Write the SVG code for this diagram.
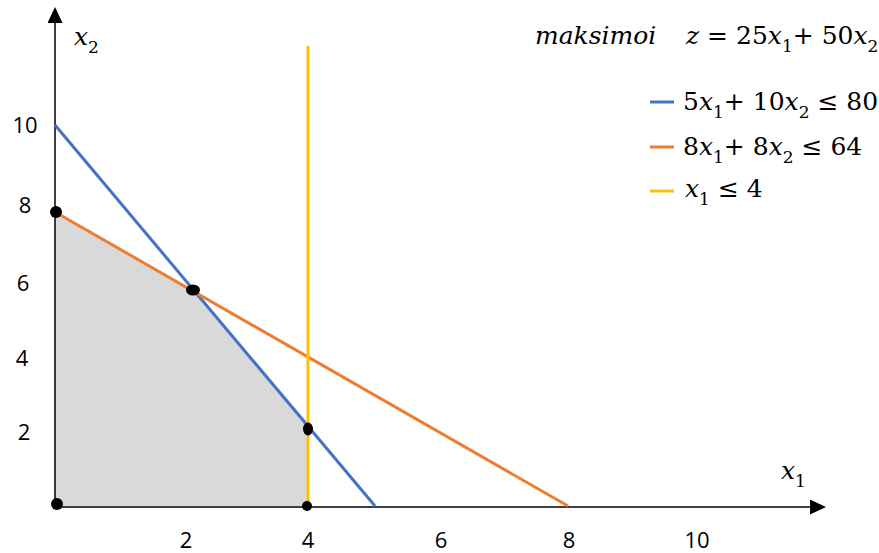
<svg xmlns="http://www.w3.org/2000/svg" width="879" height="553" viewBox="0 0 879 553">
<style>
.tick{font-family:"Open Sans","Liberation Sans",sans-serif;font-size:22px;fill:#000;text-anchor:middle}
.m{font-family:"DejaVu Serif","Liberation Serif",serif;font-size:25px;fill:#000}
.i{font-style:italic}
.s{font-size:17px}
.ax{stroke:#000;stroke-width:1.5;fill:none}
.pt{fill:#000}
</style>
<defs>
<marker id="ah" markerWidth="16" markerHeight="16" refX="0" refY="7.5" orient="auto" markerUnits="userSpaceOnUse"><path d="M0,0 L16,7.5 L0,15 Z" fill="#000"/></marker>
</defs>
<g id="region"><polygon points="55,212 193,290 308,423 308,506 55,506" fill="#d9d9d9"/></g>
<g id="connectors">
<line class="ax" x1="55" y1="507" x2="55" y2="23" marker-end="url(#ah)"/>
<line class="ax" x1="55" y1="507" x2="810" y2="507" marker-end="url(#ah)"/>
<line x1="55" y1="125" x2="375" y2="506" stroke="#4472c4" stroke-width="3"/>
<line x1="55" y1="212" x2="568" y2="506" stroke="#ed7d31" stroke-width="3"/>
<line x1="308" y1="46" x2="308" y2="506" stroke="#ffc000" stroke-width="3"/>
</g>
<g id="points">
<circle class="pt" cx="56" cy="212" r="6"/>
<ellipse class="pt" cx="193" cy="290" rx="7" ry="5.5"/>
<ellipse class="pt" cx="308" cy="429" rx="5" ry="6.5"/>
<circle class="pt" cx="57" cy="504" r="6"/>
<circle class="pt" cx="307" cy="506" r="5"/>
</g>
<g id="ticks">
<text class="tick" x="25" y="133">10</text>
<text class="tick" x="25" y="213">8</text>
<text class="tick" x="23" y="291">6</text>
<text class="tick" x="22" y="366">4</text>
<text class="tick" x="24" y="440">2</text>
<text class="tick" x="186" y="548">2</text>
<text class="tick" x="308" y="548">4</text>
<text class="tick" x="441" y="548">6</text>
<text class="tick" x="569" y="548">8</text>
<text class="tick" x="697" y="548">10</text>
</g>
<g id="axis-labels">
<text class="m" x="74" y="45"><tspan class="i">x</tspan><tspan class="s" dy="8">2</tspan></text>
<text class="m" x="781" y="479"><tspan class="i">x</tspan><tspan class="s" dy="8">1</tspan></text>
</g>
<g id="title">
<text class="m" x="535" y="44"><tspan class="i">maksimoi</tspan><tspan class="i" x="686">z</tspan> = 25<tspan class="i">x</tspan><tspan class="s" dy="8">1</tspan><tspan dy="-8">+ 50</tspan><tspan class="i">x</tspan><tspan class="s" dy="8">2</tspan></text>
</g>
<g id="legend">
<line x1="650" y1="102" x2="674" y2="102" stroke="#4472c4" stroke-width="3"/>
<line x1="650" y1="147" x2="674" y2="147" stroke="#ed7d31" stroke-width="3"/>
<line x1="650" y1="191" x2="674" y2="191" stroke="#ffc000" stroke-width="3"/>
<text class="m" x="683" y="110">5<tspan class="i">x</tspan><tspan class="s" dy="8">1</tspan><tspan dy="-8">+ 10</tspan><tspan class="i">x</tspan><tspan class="s" dy="8">2</tspan><tspan dy="-8"> ≤ 80</tspan></text>
<text class="m" x="683" y="155">8<tspan class="i">x</tspan><tspan class="s" dy="8">1</tspan><tspan dy="-8">+ 8</tspan><tspan class="i">x</tspan><tspan class="s" dy="8">2</tspan><tspan dy="-8"> ≤ 64</tspan></text>
<text class="m" x="685" y="197"><tspan class="i">x</tspan><tspan class="s" dy="8">1</tspan><tspan dy="-8"> ≤ 4</tspan></text>
</g>
</svg>
